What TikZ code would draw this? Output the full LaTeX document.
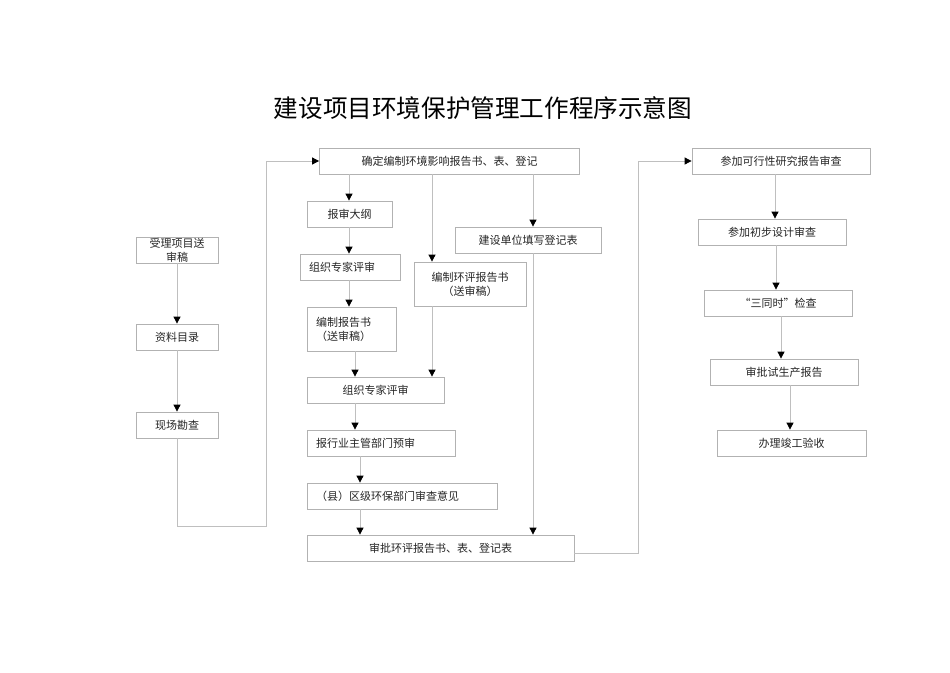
\documentclass[tikz,border=0pt]{standalone}
\usepackage{fontspec}
\setmainfont{Noto Sans CJK SC}
\usetikzlibrary{arrows.meta}

\begin{document}
\begin{tikzpicture}[
    x=1pt, y=-1pt,
    box/.style={
        draw=gray!60,
        line width=0.8pt,
        fill=white,
        minimum height=26pt,
        inner sep=0pt,
        align=center,
        text=black!85,
        font=\fontsize{11}{14}\selectfont
    },
    leftbox/.style={
        box,
        align=left,
        inner xsep=9pt,
        text width=#1
    },
    flow/.style={
        draw=gray!50,
        line width=0.8pt,
        -{Triangle[length=7pt, width=7pt, color=black]}
    },
    title/.style={
        font=\fontsize{24.6}{28}\selectfont,
        text=black
    }
]
    \useasboundingbox (0,0) rectangle (950,672);

    % ==========================================
    % NODES PLACEMENT
    % ==========================================

    % Title
    \node[title] (Title) at (483,108) {建设项目环境保护管理工作程序示意图};

    % Left column
    \node[box, minimum width=82pt] (AcceptBox) at (177,250) {受理项目送\\审稿};
    \node[box, minimum width=82pt] (ListBox) at (177,337) {资料目录};
    \node[box, minimum width=82pt] (SiteBox) at (177,425) {现场勘查};

    % Middle column
    \node[box, minimum width=260pt] (DefineBox) at (449.5,161) {确定编制环境影响报告书、表、登记};
    \node[box, minimum width=85pt] (OutlineBox) at (349.5,214) {报审大纲};
    \node[leftbox=82pt] (ExpertBoxA) at (350,267) {组织专家评审};
    \node[box, minimum width=146pt] (RegFormBox) at (528,240) {建设单位填写登记表};
    \node[box, minimum width=112pt, minimum height=44pt] (EiaDraftBox) at (470,284) {编制环评报告书\\（送审稿）};
    \node[leftbox=71pt, minimum height=44pt] (DraftBox) at (351.5,329) {编制报告书\\（送审稿）};
    \node[box, minimum width=137pt] (ExpertBoxB) at (375.5,390) {组织专家评审};
    \node[leftbox=130pt] (IndustryBox) at (381,443) {报行业主管部门预审};
    \node[leftbox=172pt] (CountyBox) at (402,496) {（县）区级环保部门审查意见};
    \node[box, minimum width=267pt] (ApproveBox) at (440.5,548) {审批环评报告书、表、登记表};

    % Right column
    \node[box, minimum width=178pt] (FeasBox) at (781,161) {参加可行性研究报告审查};
    \node[box, minimum width=148pt] (PrelimBox) at (772,232) {参加初步设计审查};
    \node[box, minimum width=148pt] (SyncBox) at (778,303) {“三同时”检查};
    \node[box, minimum width=148pt] (TrialBox) at (784,372) {审批试生产报告};
    \node[box, minimum width=149pt] (FinishBox) at (791.5,443) {办理竣工验收};

    % Columns of the vertical arrows
    \coordinate (ColOutline) at (349,0);
    \coordinate (ColEia) at (432,0);
    \coordinate (ColReg) at (533,0);
    \coordinate (ColExpert) at (355,0);
    \coordinate (ColCounty) at (360,0);
    \coordinate (ColFeas) at (775,0);
    \coordinate (ColPrelim) at (776,0);
    \coordinate (ColSync) at (781,0);
    \coordinate (ColTrial) at (790,0);

    % Bends of the two loops
    \coordinate (LoopLeft) at (266,526);
    \coordinate (LoopRight) at (638,553);

    % ==========================================
    % CONNECTIONS
    % ==========================================

    % Left column
    \draw[flow] (AcceptBox.south) -- (ListBox.north);
    \draw[flow] (ListBox.south) -- (SiteBox.north);
    \draw[flow] (SiteBox.south) |- (LoopLeft) |- (DefineBox.west);

    % Middle column, report branch
    \draw[flow] (ColOutline |- DefineBox.south) -- (ColOutline |- OutlineBox.north);
    \draw[flow] (ColOutline |- OutlineBox.south) -- (ColOutline |- ExpertBoxA.north);
    \draw[flow] (ColOutline |- ExpertBoxA.south) -- (ColOutline |- DraftBox.north);
    \draw[flow] (ColExpert |- DraftBox.south) -- (ColExpert |- ExpertBoxB.north);

    % Middle column, report form branch
    \draw[flow] (ColEia |- DefineBox.south) -- (ColEia |- EiaDraftBox.north);
    \draw[flow] (ColEia |- EiaDraftBox.south) -- (ColEia |- ExpertBoxB.north);

    % Middle column, registration form branch
    \draw[flow] (ColReg |- DefineBox.south) -- (ColReg |- RegFormBox.north);
    \draw[flow] (ColReg |- RegFormBox.south) -- (ColReg |- ApproveBox.north);

    % Review chain
    \draw[flow] (ColExpert |- ExpertBoxB.south) -- (ColExpert |- IndustryBox.north);
    \draw[flow] (ColCounty |- IndustryBox.south) -- (ColCounty |- CountyBox.north);
    \draw[flow] (ColCounty |- CountyBox.south) -- (ColCounty |- ApproveBox.north);

    % Approval to right column
    \draw[flow] (ApproveBox.east |- LoopRight) -- (LoopRight) |- (FeasBox.west);

    % Right column
    \draw[flow] (ColFeas |- FeasBox.south) -- (ColFeas |- PrelimBox.north);
    \draw[flow] (ColPrelim |- PrelimBox.south) -- (ColPrelim |- SyncBox.north);
    \draw[flow] (ColSync |- SyncBox.south) -- (ColSync |- TrialBox.north);
    \draw[flow] (ColTrial |- TrialBox.south) -- (ColTrial |- FinishBox.north);

\end{tikzpicture}
\end{document}
